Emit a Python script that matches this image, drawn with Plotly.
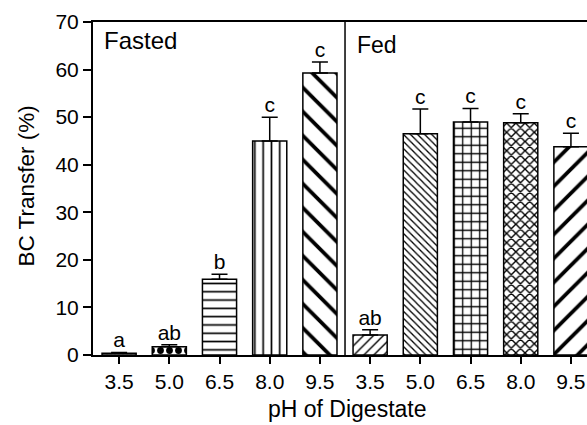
import plotly.graph_objects as go

ph_labels = ["3.5", "5.0", "6.5", "8.0", "9.5"]
fasted_vals = [0.35, 1.75, 15.9, 45.0, 59.3]
fasted_err = [0.2, 0.4, 1.1, 5.0, 2.3]
fed_vals = [4.2, 46.5, 49.0, 48.8, 43.8]
fed_err = [1.1, 5.2, 2.8, 1.9, 2.8]
fasted_letters = ["a", "ab", "b", "c", "c"]
fed_letters = ["ab", "c", "c", "c", "c"]
groups = ["Fasted", "Fed"]

vals = fasted_vals + fed_vals
errs = fasted_err + fed_err
letters = fasted_letters + fed_letters
ticktext = ph_labels + ph_labels
xpos = list(range(len(vals)))

shapes = [".", ".", "-", "|", "\\", "/", "\\", "+", "x", "/"]
sizes = [4, 9, 8.3, 8.3, 17, 7, 5, 8.5, 6.5, 17]
solid = [0.3, 0.45, 0.2, 0.2, 0.22, 0.2, 0.26, 0.28, 0.38, 0.22]

FONT = "Arial, Liberation Sans, sans-serif"

fig = go.Figure()
fig.add_trace(go.Bar(
    x=xpos, y=vals, width=0.68,
    marker=dict(
        color="white",
        line=dict(color="black", width=1.5),
        pattern=dict(shape=shapes, size=sizes, solidity=solid,
                     fgcolor="black", bgcolor="white", fgopacity=1,
                     fillmode="replace"),
    ),
    error_y=dict(type="data", symmetric=False, array=errs,
                 arrayminus=[0] * len(errs), color="black",
                 thickness=1.5, width=8),
    showlegend=False,
))
fig.add_trace(go.Scatter(
    x=xpos, y=[v + e for v, e in zip(vals, errs)],
    mode="text", text=letters, textposition="top center",
    textfont=dict(family=FONT, size=21, color="black"),
    showlegend=False, cliponaxis=False,
))

fig.add_shape(type="line", xref="x", yref="paper", x0=4.5, x1=4.5, y0=0, y1=1,
              line=dict(color="black", width=1.5))

fig.add_annotation(text=groups[0], xref="paper", yref="paper",
                   x=(102 - 93) / 494, y=1 - (25 - 22) / 333,
                   xanchor="left", yanchor="top", showarrow=False,
                   font=dict(family=FONT, size=24, color="black"))
fig.add_annotation(text=groups[1], xref="paper", yref="paper",
                   x=(355 - 93) / 494, y=1 - (30 - 22) / 333,
                   xanchor="left", yanchor="top", showarrow=False,
                   font=dict(family=FONT, size=23, color="black"))
fig.add_annotation(text="pH of Digestate", xref="paper", yref="paper",
                   x=(347 - 93) / 494, y=-(409 - 355) / 333,
                   xanchor="center", yanchor="middle", showarrow=False,
                   font=dict(family=FONT, size=23, color="black"))
fig.add_annotation(text="BC Transfer (%)", xref="paper", yref="paper",
                   x=(26 - 93) / 494, y=(355 - 186.5) / 333,
                   xanchor="center", yanchor="middle", showarrow=False,
                   textangle=-90,
                   font=dict(family=FONT, size=22.5, color="black"))

fig.update_layout(
    width=587, height=425,
    margin=dict(l=93, r=0, t=22, b=70),
    paper_bgcolor="white", plot_bgcolor="white",
    font=dict(family=FONT, color="black"),
)
fig.update_xaxes(
    range=[-0.52, 9.32], tickvals=xpos, ticktext=ticktext,
    showline=True, linecolor="black", linewidth=2, mirror=True,
    ticks="outside", ticklen=7, tickwidth=2, tickcolor="black",
    tickfont=dict(family=FONT, size=21, color="black"),
    showgrid=False, zeroline=False, fixedrange=True,
)
fig.update_yaxes(
    range=[0, 70], dtick=10, tick0=0,
    showline=True, linecolor="black", linewidth=2,
    ticks="outside", ticklen=8, tickwidth=2, tickcolor="black",
    tickfont=dict(family=FONT, size=21, color="black"),
    showgrid=False, zeroline=False,
)

fig.write_html("out.html")
